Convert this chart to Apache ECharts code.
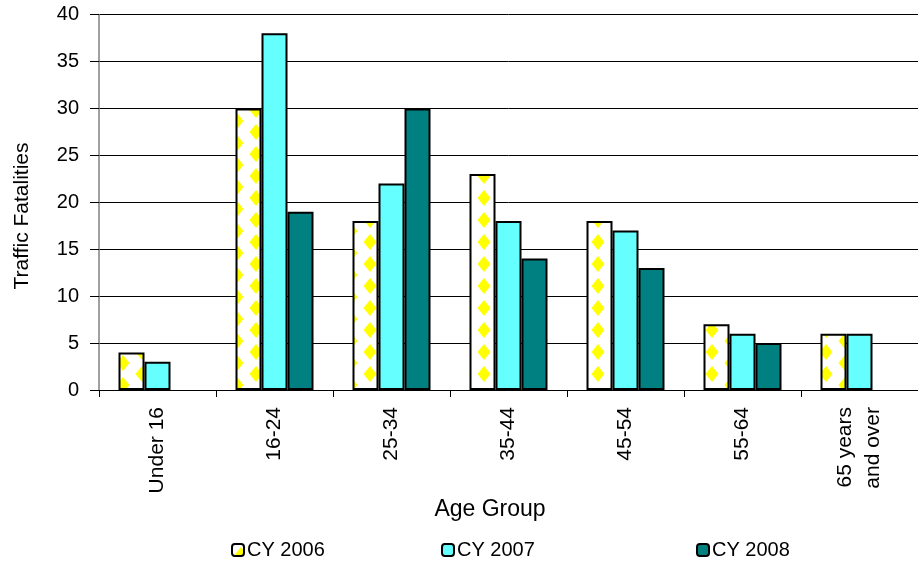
<!DOCTYPE html>
<html><head><meta charset="utf-8">
<script src="https://cdn.jsdelivr.net/npm/echarts@6/dist/echarts.min.js"></script>
<style>html,body{margin:0;padding:0;background:#fff}#c{width:918px;height:562px}</style>
</head><body><div id="c"></div>
<script>
const categories = ['Under 16','16-24','25-34','35-44','45-54','55-64','65 years\nand over'];
const cy2006 = [4, 30, 18, 23, 18, 7, 6];
const cy2007 = [3, 38, 22, 18, 17, 6, 6];
const cy2008 = [null, 19, 30, 14, 13, 5, null];
const yTicks = [0, 5, 10, 15, 20, 25, 30, 35, 40];

function makePattern(){
  const c = document.createElement('canvas');
  c.width = 38; c.height = 22;
  const g = c.getContext('2d');
  g.fillStyle = '#ffffff'; g.fillRect(0,0,38,22);
  g.fillStyle = '#ffff00';
  function dia(cx, cy){
    g.beginPath();
    g.moveTo(cx, cy-8); g.lineTo(cx+6.5, cy); g.lineTo(cx, cy+8); g.lineTo(cx-6.5, cy);
    g.closePath(); g.fill();
  }
  dia(9, 11); dia(28, 0); dia(28, 22);
  return c;
}
const pattern = {image: makePattern(), repeat: 'repeat'};
const FONT = "'Liberation Sans', Arial, sans-serif";

const chart = echarts.init(document.getElementById('c'), null, {renderer:'canvas'});
const legendBase = {top: 535, itemWidth: 12, itemHeight: 12, itemGap: 0,
  textStyle: {fontFamily: FONT, fontSize: 20, color: '#000', padding: [0,0,0,-2]}};
chart.setOption({
  animation: false,
  grid: {left: 99, right: 0, top: 14.5, bottom: 172, containLabel: false},
  legend: [
    Object.assign({}, legendBase, {left: 226, data: ['CY 2006']}),
    Object.assign({}, legendBase, {left: 436, data: ['CY 2007']}),
    Object.assign({}, legendBase, {left: 691, data: ['CY 2008']})
  ],
  xAxis: {
    type: 'category', data: categories,
    axisLine: {lineStyle: {color: '#000', width: 1}},
    axisTick: {show: true, length: 7, lineStyle: {color: '#000'}},
    axisLabel: {rotate: 90, margin: 17, fontFamily: FONT, fontSize: 21, color: '#000', lineHeight: 28}
  },
  yAxis: {
    type: 'value', min: 0, max: 40, interval: 5,
    axisLine: {show: true, lineStyle: {color: '#808080', width: 1.5}},
    axisTick: {show: true, length: 9, lineStyle: {color: '#000'}},
    axisLabel: {margin: 20, fontFamily: FONT, fontSize: 20, color: '#000',
      formatter: v => yTicks.includes(v) ? String(v) : ''},
    splitLine: {show: true, lineStyle: {color: '#000', width: 1}}
  },
  graphic: [
    {type: 'text', x: 490, y: 510, style: {text: 'Age Group', align: 'center', verticalAlign: 'middle',
      font: "23px 'Liberation Sans', Arial, sans-serif", fill: '#000'}},
    {type: 'text', rotation: Math.PI/2, x: 22, y: 216, style: {text: 'Traffic Fatalities', align: 'center', verticalAlign: 'middle',
      font: "21px 'Liberation Sans', Arial, sans-serif", fill: '#000'}}
  ],
  series: [
    {name: 'CY 2006', type: 'bar', data: cy2006, barWidth: 26, barGap: '0%',
      itemStyle: {color: pattern, borderColor: '#000', borderWidth: 2}},
    {name: 'CY 2007', type: 'bar', data: cy2007, barWidth: 26, barGap: '0%',
      itemStyle: {color: '#66ffff', borderColor: '#000', borderWidth: 2}},
    {name: 'CY 2008', type: 'bar', data: cy2008, barWidth: 26, barGap: '0%',
      itemStyle: {color: '#008080', borderColor: '#000', borderWidth: 2}}
  ]
});
</script></body></html>
